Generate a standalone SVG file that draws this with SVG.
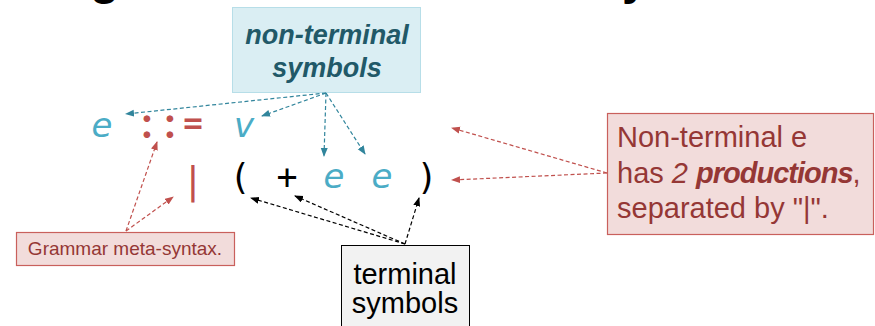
<svg xmlns="http://www.w3.org/2000/svg" width="875" height="326" viewBox="0 0 875 326">
<defs>
<style>
.f{text-anchor:middle}
.nt{font-family:"DejaVu Sans",Verdana,sans-serif;fill:#4bacc6;font-style:italic;font-size:34px}
.meta{font-family:Lato,"Open Sans",sans-serif;fill:#c0504d;font-weight:bold;font-size:38px}
.col{font-size:44px}
.term{font-family:"DejaVu Sans Mono","Liberation Mono",monospace;fill:#000;font-size:35px}
.sans{font-family:"Liberation Sans",Arial,sans-serif}
.tl{fill:none;stroke:#31859c;stroke-width:1.2;stroke-dasharray:4 2.5}
.rl{fill:none;stroke:#c0504d;stroke-width:1.2;stroke-dasharray:4 2.5}
.bl{fill:none;stroke:#000;stroke-width:1.2;stroke-dasharray:4 2.5}
</style>
<marker id="at" markerWidth="9" markerHeight="8" refX="8" refY="3.5" orient="auto" markerUnits="userSpaceOnUse"><path d="M0,0 L9,3.5 L0,7 z" fill="#31859c"/></marker>
<marker id="ar" markerWidth="9" markerHeight="8" refX="8" refY="3.5" orient="auto" markerUnits="userSpaceOnUse"><path d="M0,0 L9,3.5 L0,7 z" fill="#c0504d"/></marker>
<marker id="ab" markerWidth="9" markerHeight="8" refX="8" refY="3.5" orient="auto" markerUnits="userSpaceOnUse"><path d="M0,0 L9,3.5 L0,7 z" fill="#000"/></marker>
</defs>
<rect width="875" height="326" fill="#fff"/>
<g id="title" class="sans" font-size="48" font-weight="bold" fill="#000">
<text x="90" y="-6">g</text>
<text x="622" y="-6">y</text>
</g>
<g id="grammar">
<text class="nt f" x="102" y="137">e</text>
<text class="meta col f" x="147" y="138">:</text>
<text class="meta col f" x="170" y="138">:</text>
<text class="meta f" x="193" y="137">=</text>
<text class="nt f" x="244" y="137">v</text>
<text class="f" x="193" y="193" style="font-family:'DejaVu Sans',sans-serif;font-size:38px;fill:#c0504d">|</text>
<text class="term f" x="240" y="189">(</text>
<text class="term f" x="287" y="189">+</text>
<text class="nt f" x="334" y="188">e</text>
<text class="nt f" x="382" y="188">e</text>
<text class="term f" x="427" y="189">)</text>
</g>
<g id="nonterminal">
<rect x="232.5" y="7.5" width="188" height="85" fill="#daeef3" stroke="#b7dee8" stroke-width="1"/>
<text class="sans" x="327" y="44" font-size="27" font-weight="bold" font-style="italic" fill="#215968" text-anchor="middle">non-terminal</text>
<text class="sans" x="327" y="77" font-size="27" font-weight="bold" font-style="italic" fill="#215968" text-anchor="middle">symbols</text>
</g>
<g id="productions">
<rect x="607.5" y="113.5" width="266" height="121" fill="#f2dcdb" stroke="#c9605c" stroke-width="1.2"/>
<g class="sans" font-size="29" fill="#953735">
<text x="617" y="147">Non-terminal e</text>
<text x="617" y="183">has <tspan font-style="italic">2 </tspan><tspan font-style="italic" font-weight="bold" letter-spacing="-1">productions</tspan>,</text>
<text x="617" y="218">separated by "|".</text>
</g>
</g>
<g id="metasyntax">
<rect x="16.5" y="232.5" width="218" height="33" fill="#f2dcdb" stroke="#c9605c" stroke-width="1.2"/>
<text class="sans" x="125" y="255" font-size="19" fill="#953735" text-anchor="middle">Grammar meta-syntax.</text>
</g>
<g id="terminal">
<rect x="341.5" y="245.5" width="128" height="100" fill="#f2f2f2" stroke="#000" stroke-width="1"/>
<text class="sans" x="405" y="284" font-size="29" fill="#000" text-anchor="middle">terminal</text>
<text class="sans" x="405" y="313" font-size="29" fill="#000" text-anchor="middle">symbols</text>
</g>
<g id="connectors">
<line class="tl" x1="326" y1="93" x2="126" y2="114" marker-end="url(#at)"/>
<line class="tl" x1="326" y1="93" x2="262" y2="116" marker-end="url(#at)"/>
<line class="tl" x1="326" y1="93" x2="324" y2="156" marker-end="url(#at)"/>
<line class="tl" x1="326" y1="93" x2="365" y2="154" marker-end="url(#at)"/>
<line class="rl" x1="607" y1="173" x2="452" y2="128" marker-end="url(#ar)"/>
<line class="rl" x1="607" y1="173" x2="452" y2="180" marker-end="url(#ar)"/>
<line class="rl" x1="126" y1="231" x2="157" y2="142" marker-end="url(#ar)"/>
<line class="rl" x1="126" y1="231" x2="173" y2="197" marker-end="url(#ar)"/>
<line class="bl" x1="405" y1="244" x2="251" y2="198" marker-end="url(#ab)"/>
<line class="bl" x1="405" y1="244" x2="295" y2="196" marker-end="url(#ab)"/>
<line class="bl" x1="405" y1="244" x2="419" y2="198" marker-end="url(#ab)"/>
</g>
</svg>
